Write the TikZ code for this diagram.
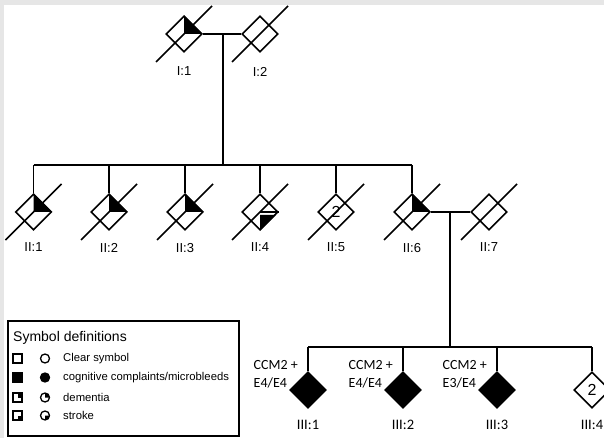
\documentclass[tikz,border=0pt]{standalone}
\usepackage{fontspec}
\setmainfont{Liberation Sans}
\newfontfamily\calibri{Carlito}
\usepackage{tikz}
\usetikzlibrary{arrows.meta, positioning, shapes}
\usetikzlibrary{shapes.geometric}
\usepackage{xcolor}
\definecolor{frame}{HTML}{E6E6E6}

\newcommand{\deceased}[1]{\draw[rel] ([shift={(-28pt,-28pt)}]#1.center) -- ([shift={(28pt,28pt)}]#1.center);}
\newcommand{\demfill}[1]{\fill (#1.center) -- (#1.north) -- (#1.east) -- cycle;}

\begin{document}
\begin{tikzpicture}[x=1pt, y=-1pt,
	person/.style={draw, diamond, aspect=1, minimum width=36pt, minimum height=36pt, inner sep=0pt, line width=1.6pt, font=\fontsize{16}{16}\selectfont},
	affected/.style={person, fill=black},
	tag/.style={inner sep=0pt, font=\fontsize{13}{13}\selectfont},
	tagc/.style={inner sep=0pt, font=\calibri\fontsize{14.5}{15}\selectfont},
	geno/.style={inner sep=0pt, align=left, anchor=north east, font=\calibri\fontsize{14}{18}\selectfont},
	rel/.style={line width=1.5pt},
	leg/.style={line width=1.3pt},
	legtext/.style={inner sep=0pt, anchor=west, font=\fontsize{11.3}{12}\selectfont}]
	
	\useasboundingbox (0,0) rectangle (604,438);
	\clip (0,0) rectangle (604,438);
	\fill[frame] (0,0) rectangle (604,438);
	\fill[white] (4,5) rectangle (604,438);
	
	% generation I
	\node[person] (I1) at (184,34) {};
	\node[person] (I2) at (260,34) {};
	\node[tag, below=14pt of I1] (lI1) {I:1};
	\node[tag, below=14pt of I2] (lI2) {I:2};
	
	% generation II
	\node[person] (II1) at (33.5,212) {};
	\node[person] (II2) at (109,212) {};
	\node[person] (II3) at (185,212) {};
	\node[person] (II4) at (260,212) {};
	\node[person] (II5) at (336,212) {2};
	\node[person] (II6) at (412,212) {};
	\node[person] (II7) at (489,212) {};
	\foreach \p/\t in {II1/II:1, II2/II:2, II3/II:3, II4/II:4, II5/II:5, II6/II:6, II7/II:7}
		\node[tag, below=12pt of \p] (l\p) {\t};
	
	% generation III
	\node[affected] (III1) at (308,390) {};
	\node[affected] (III2) at (403,390) {};
	\node[affected] (III3) at (497,390) {};
	\node[person] (III4) at (592,390) {2};
	\foreach \p/\t in {III1/III:1, III2/III:2, III3/III:3, III4/III:4}
		\node[tagc, below=11pt of \p] (l\p) {\t};
	
	\node[geno] (gIII1) at ([shift={(-10pt,30pt)}]III1.center) {CCM2 +\\E4/E4};
	\node[geno] (gIII2) at ([shift={(-10pt,30pt)}]III2.center) {CCM2 +\\E4/E4};
	\node[geno] (gIII3) at ([shift={(-10pt,30pt)}]III3.center) {CCM2 +\\E3/E4};
	
	% fills: dementia / stroke
	\foreach \p in {I1, II1, II2, II3, II6}
		{\demfill{\p}}
	\draw[line width=1.2pt] (II4.center) -- (II4.east);
	\fill ([yshift=-3pt]II4.center) -- ([shift={(-3pt,-3pt)}]II4.east) -- (II4.south) -- cycle;
	
	% deceased
	\foreach \p in {I1, I2, II1, II2, II3, II4, II5, II6, II7}
		{\deceased{\p}}
	
	% couples and sibships
	\coordinate (m1) at (223,34);
	\coordinate (s1) at (223,165);
	\draw[rel] (I1.east) -- (I2.west);
	\draw[rel] (m1) -- (s1);
	\draw[rel] (II1.north |- s1) -- (II6.north |- s1);
	\foreach \p in {II1, II2, II3, II4, II5, II6}
		\draw[rel] (\p.north) -- (\p.north |- s1);
	
	\coordinate (m2) at (450,212);
	\coordinate (s2) at (450,347);
	\draw[rel] (II6.east) -- (II7.west);
	\draw[rel] (m2) -- (s2);
	\draw[rel] (III1.north |- s2) -- (III4.north |- s2);
	\foreach \p in {III1, III2, III3, III4}
		\draw[rel] (\p.north) -- (\p.north |- s2);
	
	% symbol definitions
	\draw[leg] (8,321) rectangle (239,436);
	\node[inner sep=0pt, anchor=west, font=\fontsize{14}{14}\selectfont] (legtitle) at (13,338) {Symbol definitions};
	
	\draw[leg] (13,354) rectangle (22,363);
	\draw[leg] (45,358.5) circle (4.5pt);
	\node[legtext] (legclear) at (63,358.5) {Clear symbol};
	
	\filldraw[leg] (13,373) rectangle (22,382);
	\filldraw[leg] (45,377.5) circle (4.5pt);
	\node[legtext] (legcog) at (63,377.5) {cognitive complaints/microbleeds};
	
	\draw[leg] (13,393) rectangle (22,402);
	\fill (17.5,393) rectangle (22,397.5);
	\draw[leg] (45,397.5) circle (4.5pt);
	\fill (45,397.5) -- ++(4.5pt,0) arc[start angle=0, end angle=90, radius=4.5pt] -- cycle;
	\node[legtext] (legdem) at (63,397.5) {dementia};
	
	\draw[leg] (13,411) rectangle (22,420);
	\fill (17.5,415.5) rectangle (22,420);
	\draw[leg] (45,415.5) circle (4.5pt);
	\fill (45,415.5) -- ++(4.5pt,0) arc[start angle=0, end angle=-90, radius=4.5pt] -- cycle;
	\node[legtext] (legstroke) at (63,415.5) {stroke};
	
\end{tikzpicture}
\end{document}
